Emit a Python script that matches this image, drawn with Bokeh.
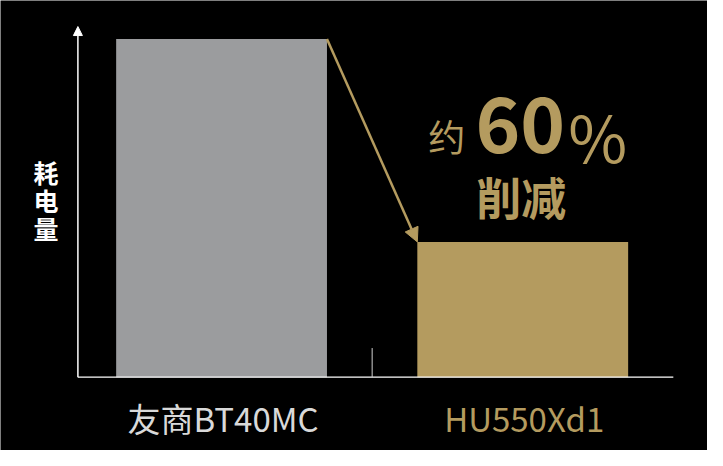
from bokeh.plotting import figure
from bokeh.models import ColumnDataSource, Range1d, Label, Arrow, NormalHead
from bokeh.embed import file_html
from bokeh.resources import INLINE

# data
categories = ['友商BT40MC', 'HU550Xd1']
power_use = [100, 40]
bar_colors = ['#9B9C9E', '#B49B5F']
label_colors = ['#D9D9D9', '#B49B5F']
reduction_text = '60'
y_title = '耗电量'

FONT = 'Noto Sans CJK SC'
GOLD = '#B49B5F'
BAR_W = 0.7
AXIS_X = (-0.477, 1.5)   # extent of the drawn x axis
AXIS_TOP = 103.7         # top of the drawn y axis
TICK_LEN = 8.6

xs = list(range(len(categories)))
source = ColumnDataSource(data=dict(x=xs, top=power_use, color=bar_colors, name=categories))

p = figure(width=707, height=450, output_backend="svg", toolbar_location=None,
           x_range=Range1d(-0.734, 1.6135), y_range=Range1d(-21.7, 111.4),
           x_axis_location=None, y_axis_location=None, min_border=0)
p.background_fill_color = 'black'
p.border_fill_color = 'black'
p.outline_line_color = None
p.outline_line_alpha = 0
p.xgrid.grid_line_color = None
p.ygrid.grid_line_color = None

p.vbar(x='x', top='top', width=BAR_W, bottom=0, color='color', line_color=None, source=source)

# axes
p.segment(x0=[AXIS_X[0]], y0=[0], x1=[AXIS_X[1]], y1=[0], line_color='white', line_width=1.2)
mid = (xs[0] + xs[1]) / 2
p.segment(x0=[mid], y0=[0], x1=[mid], y1=[TICK_LEN], line_color='#D0D0D0', line_width=1)
p.add_layout(Arrow(x_start=AXIS_X[0], y_start=0, x_end=AXIS_X[0], y_end=AXIS_TOP,
                   line_color='white', line_width=1.5,
                   end=NormalHead(size=9, fill_color='white', line_color='white')))
p.add_layout(Label(x=AXIS_X[0], y=0, x_offset=-32, y_offset=177, text='\n'.join(y_title),
                   text_color='white', text_font=FONT, text_font_style='bold',
                   text_font_size='25px', text_line_height=0.78,
                   text_align='center', text_baseline='middle'))

# category labels
for i, name in enumerate(categories):
    p.add_layout(Label(x=xs[i], y=0, x_offset=1.5, y_offset=-40.6, text=name,
                       text_color=label_colors[i], text_font=FONT, text_font_size='33px',
                       text_align='center', text_baseline='middle'))

# arrow from old bar to new bar
p.add_layout(Arrow(x_start=xs[0] + BAR_W / 2, y_start=power_use[0],
                   x_end=xs[1] - BAR_W / 2, y_end=power_use[1],
                   line_color=GOLD, line_width=2.5,
                   end=NormalHead(size=14, fill_color=GOLD, line_color=GOLD)))

# annotation text
p.add_layout(Label(x=xs[1], y=power_use[1], x_offset=-76, y_offset=106, text='约',
                   text_color=GOLD, text_font=FONT, text_font_size='37px',
                   text_align='center', text_baseline='middle'))
p.add_layout(Label(x=xs[1], y=power_use[1], x_offset=-2.4, y_offset=117, text=reduction_text,
                   text_color=GOLD, text_font=FONT, text_font_style='bold',
                   text_font_size='76px', text_align='center', text_baseline='middle'))
p.add_layout(Label(x=xs[1], y=power_use[1], x_offset=75, y_offset=107, text='%',
                   text_color=GOLD, text_font=FONT, text_font_size='64px',
                   text_align='center', text_baseline='middle'))
p.add_layout(Label(x=xs[1], y=power_use[1], x_offset=-1.5, y_offset=45, text='削减',
                   text_color=GOLD, text_font=FONT, text_font_style='bold',
                   text_font_size='45px', text_align='center', text_baseline='middle'))

open("out.html", "w").write(file_html(p, INLINE))
